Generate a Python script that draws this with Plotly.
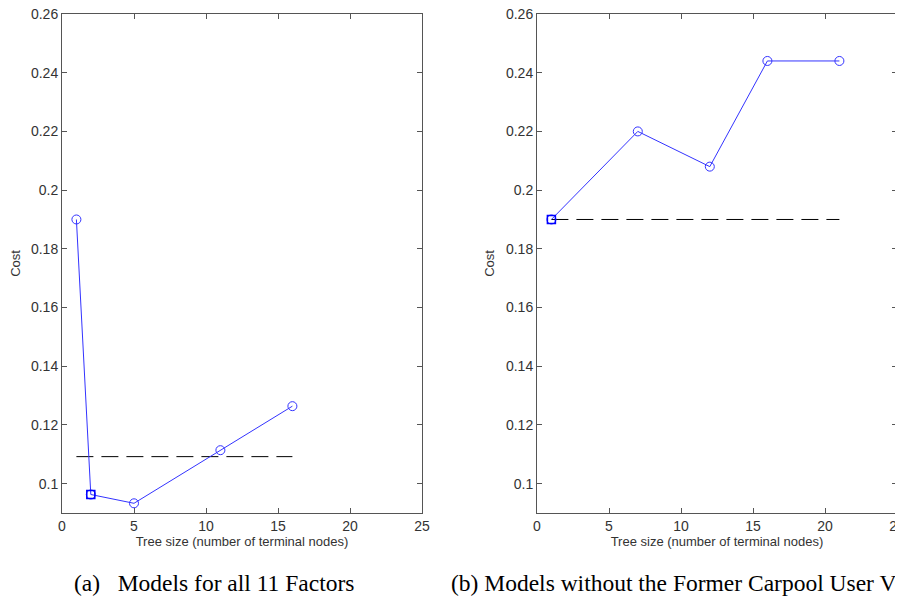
import plotly.graph_objects as go

# Data (a) Models for all 11 Factors
a_size = [1, 2, 5, 11, 16]
a_cost = [0.190, 0.0963, 0.0933, 0.1114, 0.1264]
a_best_size = [2]
a_best_cost = [0.0963]
a_ref_x = [1, 16]
a_ref_y = [0.1092, 0.1092]

# Data (b) Models without the Former Carpool User Variable
b_size = [1, 7, 12, 16, 21]
b_cost = [0.190, 0.220, 0.208, 0.244, 0.244]
b_best_size = [1]
b_best_cost = [0.190]
b_ref_x = [1, 21]
b_ref_y = [0.190, 0.190]

y_ticks = [0.1, 0.12, 0.14, 0.16, 0.18, 0.2, 0.22, 0.24, 0.26]
y_tick_text = ["0.1", "0.12", "0.14", "0.16", "0.18", "0.2", "0.22", "0.24", "0.26"]
x_ticks = [0, 5, 10, 15, 20, 25]

# page body has an 8px default margin -> figure is offset by 8px
OFF = 8
W, H = 903 - OFF, 599 - OFF
blue = "#3333ff"

def px_x(p):
    return (p - OFF) / W

def px_y(p):
    return 1 - (p - OFF) / H

fig = go.Figure()

def add_panel(xs, ys, bx, by, rx, ry, xa, ya):
    fig.add_trace(go.Scatter(x=rx, y=ry, mode="lines",
                             line=dict(color="black", width=1, dash="17px,8px"),
                             xaxis=xa, yaxis=ya, showlegend=False))
    fig.add_trace(go.Scatter(x=xs, y=ys, mode="lines+markers",
                             line=dict(color=blue, width=1),
                             marker=dict(symbol="circle-open", size=9, color=blue, line=dict(width=1)),
                             xaxis=xa, yaxis=ya, showlegend=False))
    fig.add_trace(go.Scatter(x=bx, y=by, mode="markers",
                             marker=dict(symbol="square-open", size=8, color="#0000ff", line=dict(width=1.5)),
                             xaxis=xa, yaxis=ya, showlegend=False))

add_panel(a_size, a_cost, a_best_size, a_best_cost, a_ref_x, a_ref_y, "x", "y")
add_panel(b_size, b_cost, b_best_size, b_best_cost, b_ref_x, b_ref_y, "x2", "y2")

ydom = [px_y(513), px_y(14)]
axis_common = dict(showline=True, linecolor="#555", linewidth=1, mirror="ticks",
                   ticks="inside", ticklen=5, tickcolor="#555", showgrid=False, zeroline=False,
                   automargin=False, ticklabeloverflow="allow",
                   tickfont=dict(family="Liberation Sans, Arial", size=14, color="#333"))

xfont = dict(family="Liberation Sans, Arial", size=13, color="#333")

fig.update_layout(
    width=W, height=H,
    margin=dict(l=0, r=0, t=0, b=0),
    paper_bgcolor="white", plot_bgcolor="white",
    xaxis=dict(domain=[px_x(62), px_x(422)], range=[0, 25], tickvals=x_ticks, anchor="y",
               title=dict(text="Tree size (number of terminal nodes)", font=xfont, standoff=4),
               **axis_common),
    yaxis=dict(domain=ydom, range=[0.09, 0.26], tickvals=y_ticks, ticktext=y_tick_text, anchor="x",
               title=dict(text="Cost", font=xfont, standoff=8), **axis_common),
    xaxis2=dict(domain=[px_x(537), px_x(897)], range=[0, 25], tickvals=x_ticks, anchor="y2",
                title=dict(text="Tree size (number of terminal nodes)", font=xfont, standoff=4),
                **axis_common),
    yaxis2=dict(domain=ydom, range=[0.09, 0.26], tickvals=y_ticks, ticktext=y_tick_text, anchor="x2",
                title=dict(text="Cost", font=xfont, standoff=8), **axis_common),
    annotations=[
        dict(text="(a)   Models for all 11 Factors", x=px_x(72), y=px_y(583), xref="paper", yref="paper",
             xanchor="left", yanchor="middle", showarrow=False,
             font=dict(family="Liberation Serif, Times New Roman", size=23.5, color="black")),
        dict(text="(b) Models without the Former Carpool User V", x=px_x(449), y=px_y(583),
             xref="paper", yref="paper", xanchor="left", yanchor="middle", showarrow=False,
             font=dict(family="Liberation Serif, Times New Roman", size=23.5, color="black")),
    ],
)

fig.write_html("out.html")
